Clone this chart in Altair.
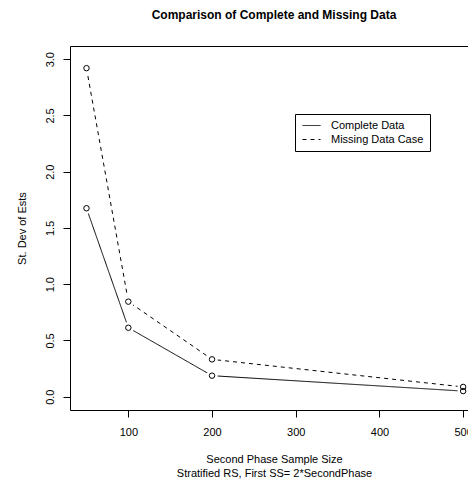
import altair as alt
import pandas as pd

sample_sizes = [50, 100, 200, 500]
complete_sd = [1.675, 0.613, 0.187, 0.05]
missing_sd = [2.92, 0.845, 0.332, 0.087]
series_names = ["Complete Data", "Missing Data Case"]
y_ticks = [0.0, 0.5, 1.0, 1.5, 2.0, 2.5, 3.0]
x_ticks = [100, 200, 300, 400, 500]

rows = []
for n, c, m in zip(sample_sizes, complete_sd, missing_sd):
    rows.append({"n": n, "sd": c, "series": series_names[0]})
    rows.append({"n": n, "sd": m, "series": series_names[1]})
df = pd.DataFrame(rows)

FONT = "Liberation Sans"
W, H = 398, 364

xscale = alt.Scale(domain=[30.3, 505.8], nice=False, zero=False)
yscale = alt.Scale(domain=[-0.118, 3.117], nice=False, zero=False)

x_bottom = alt.X(
    "n:Q", scale=xscale,
    axis=alt.Axis(
        orient="bottom", values=x_ticks, format="d", grid=False,
        tickSize=7, tickColor="black", domainColor="black",
        labelFont=FONT, labelFontSize=11, labelColor="black", labelPadding=9,
        labelFlush=False, labelOverlap=False,
        title=["Second Phase Sample Size", "Stratified RS, First SS= 2*SecondPhase"],
        titleFont=FONT, titleFontSize=11, titleFontWeight="normal", titleColor="black",
        titleX=204, titleY=52, titleAlign="center", titleBaseline="alphabetic",
        titleLineHeight=14, titleAnchor="start",
    ),
)
x_top = alt.X(
    "n:Q", scale=xscale,
    axis=alt.Axis(orient="top", ticks=False, labels=False, grid=False,
                  domainColor="black", title=None),
)
y_enc = alt.Y(
    "sd:Q", scale=yscale,
    axis=alt.Axis(
        values=y_ticks, format=".1f", grid=False,
        tickSize=7, tickColor="black", domainColor="black",
        labelFont=FONT, labelFontSize=11, labelColor="black",
        labelAngle=270, labelAlign="center", labelBaseline="bottom", labelPadding=8,
        labelFlush=False, labelOverlap=False,
        title="St. Dev of Ests", titleFont=FONT, titleFontSize=11,
        titleFontWeight="normal", titleColor="black",
        titleAngle=270, titleX=-48, titleY=H / 2, titleAlign="center",
        titleBaseline="middle",
    ),
)

dash = alt.StrokeDash(
    "series:N",
    scale=alt.Scale(domain=series_names, range=[[1, 0], [4, 4]]),
    legend=alt.Legend(
        title=None, orient="none", legendX=225, legendY=68,
        symbolType="M-2,0H2", symbolSize=81, symbolStrokeWidth=1,
        symbolStrokeColor="black", symbolFillColor="transparent",
        labelFont=FONT, labelFontSize=11, labelColor="black",
        labelOffset=14, symbolOffset=5,
        strokeColor="black", fillColor="white", padding=6, rowPadding=2,
        cornerRadius=0,
    ),
)

base = alt.Chart(df)
lines = base.mark_line(color="black", strokeWidth=1).encode(
    x=x_bottom, y=y_enc, strokeDash=dash, detail="series:N"
)
halo = base.mark_point(filled=True, color="white", size=130, opacity=1, strokeWidth=0).encode(
    x=alt.X("n:Q", scale=xscale), y=alt.Y("sd:Q", scale=yscale)
)
circles = base.mark_point(shape="circle", filled=False, color="black", size=30,
                          opacity=1, strokeWidth=1).encode(
    x=x_top, y=alt.Y("sd:Q", scale=yscale)
)

inner = alt.layer(lines, halo)

chart = alt.layer(inner, circles).resolve_axis(x="independent").properties(
    width=W, height=H,
    autosize=alt.AutoSizeParams(type="none"),
    padding={"left": 70, "top": 46, "right": 0, "bottom": 71},
    title=alt.TitleParams(
        "Comparison of Complete and Missing Data",
        font=FONT, fontSize=12, fontWeight="bold", color="black",
        anchor="middle", dx=5, offset=15, baseline="alphabetic",
    ),
).configure_view(stroke=None).configure(background="white")

chart.save("out.html", embed_options={"renderer": "svg", "actions": False})
